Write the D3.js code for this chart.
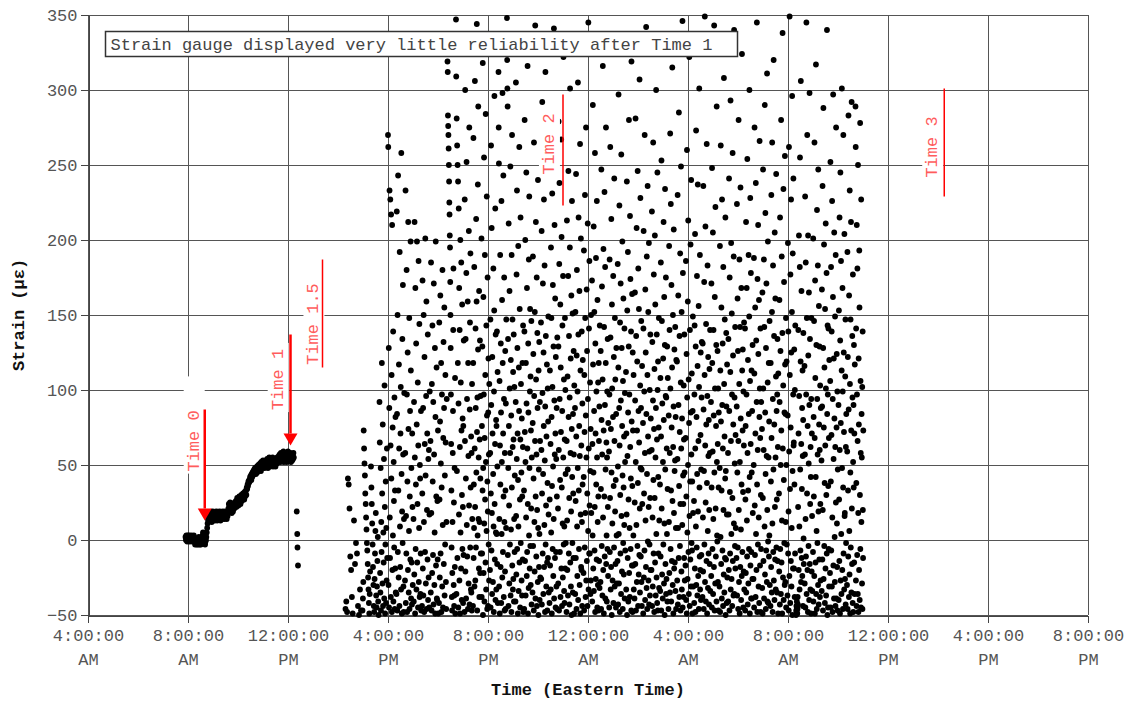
<!DOCTYPE html>
<html>
<head>
<meta charset="utf-8">
<script src="https://cdn.jsdelivr.net/npm/d3@7"></script>
<style>
  body { margin: 0; background: #fff; }
  text { font-family: "Liberation Mono", "Courier New", monospace; }
</style>
</head>
<body>
<svg id="chart" width="1139" height="702"></svg>
<script>
const svg = d3.select("#chart");

const width = 1139;
const height = 702;
const marginTop = 15;
const marginRight = 49;
const marginBottom = 87;
const marginLeft = 88;

// hours counted from midnight of day 1 (28 = 4:00 AM next day)
const xTicks = [4, 8, 12, 16, 20, 24, 28, 32, 36, 40, 44];
const yTicks = [-50, 0, 50, 100, 150, 200, 250, 300, 350];

// readings before Time 1, one a minute from 7:54 AM
const earlyStart = 7.90;
const earlyStep = 1 / 60;
const earlyStrain = [
  2, 0, 3, 1, -1, 2, 3, 0, 1, 3, -1, 2, 0, 1, 3, 2, -1, 1, 0, 2, 3, 1,
  -1, -3, 0, -2, 1, -3, -2, 0, -3, -1, 2, -2, -3, 0, -1, -3, 1, -2, 0, 3, 5, 2, 4, 1, -2, -3, -1, 0,
  2, 5, 8, 11, 14, 13, 17, 15,
  16, 13, 18, 15, 17, 12, 16, 19, 14, 17, 15, 18, 13, 16, 17, 14, 19, 16, 13, 15, 18, 16,
  14, 17, 19, 15, 13, 16, 18, 17, 14, 16, 19, 15, 17, 14, 18, 16, 15, 19, 17, 14, 18, 16,
  19, 21, 24, 20, 23, 25, 22, 19, 21, 18, 20, 23, 19, 22, 24, 21, 25, 22,
  23, 26, 22, 25, 28, 24, 27, 23, 26, 29, 25, 28, 24, 27, 30, 26, 29, 27, 31, 28, 30, 27, 32, 29,
  31, 33, 30, 35, 34, 37, 36, 39, 38, 40, 39, 42, 41, 43, 40, 44,
  42, 45, 43, 46, 44, 47, 45, 48, 46, 44, 47, 49, 45, 48, 46, 50,
  47, 50, 48, 51, 49, 46, 52, 50, 48, 51, 53, 49, 50, 52, 48, 51,
  50, 53, 49, 52, 54, 51, 48, 53, 50, 55, 52, 49, 54, 51, 53, 50, 52, 55, 49, 53, 51, 54, 50, 52, 49, 54, 53, 51, 55, 52,
  54, 52, 56, 53, 57, 55, 52, 58, 54, 56, 53, 57, 55, 59, 52, 56, 54, 58, 53, 55,
  57, 52, 56, 54, 59, 55, 53, 57, 54, 56, 58, 52, 55, 57, 53, 56, 54, 58, 55
];

// the few readings right after Time 1
const afterTime1 = [[12.35, 19], [12.37, 4], [12.38, -5], [12.40, -17]];

// unreliable readings: [burst start hour, strain values in order]
const burstSpan = 0.32;
const noiseBursts = [
  [14.30, [-46, -41, -48, 41, 37, 21, -11, -20, -38, -49]],
  [14.64, [13, -16, -2, -9, -44, -50, -33, -47]],
  [14.98, [-47, -39, -28, 73, 61, 51, 43, 31, 24, 15, 7, -2, -7, -16, -25, -33, -42, -49, -36, -21]],
  [15.32, [49, 35, 24, 11, -3, -18, -30, -44, -48, -26, -9, 6, 18, -37, -45, -31, -14, 2, -41, -50]],
  [15.66, [92, 65, -22, -35, 48, -47, 12, -8, 118, 31, -29, 77, -44, 5, -15, 54, -39, 103, 22, -49, -3, 39, -42, 8, -27, 61, -12]],
  [16.00, [270, 262, -30, 128, -45, 88, 233, 15, -12, 227, 63, -38, 217, 41, 110, -48, 210, -20, 75, 3, 139, -41, 52, 26, -5, 95, -46, 33, -19, 82, -35]],
  [16.34, [-36, 219, 84, -47, 150, -8, 243, 33, -25, 117, 61, -44, 192, 9, -18, 71, 102, -33, 258, 44, -49, 19, 134, -2, 170, 57, -31, -48, 14, 98]],
  [16.68, [-27, 58, 233, -42, 16, -9, 180, 97, -48, 39, 125, -20, 212, 74, -35, 6, 148, -46, 29, 86, -13, 199, 113, -39, 48, -15, -43, 71, 22, -30]],
  [17.02, [14, -41, 92, -23, 212, 55, -49, 168, -6, 37, 131, -33, 77, 199, -15, 24, 105, -45, 63, 186, -28, 8, 144, -38, 50, 41, -36, -9, 86, -47]],
  [17.36, [-44, 31, 173, -19, 88, -37, 150, 12, -48, 122, 64, -8, 201, 43, -29, 96, 159, -46, 20, 71, -13, 137, -40, 54, -25, 60, -45, 17, 99]],
  [17.70, [66, -35, 185, 18, -47, 104, -22, 143, 39, -10, 92, -43, 171, 57, -30, 5, 128, -49, 82, 199, -17, 29, 115, -39, -40, 26, -13, 73, -49]],
  [18.04, [-42, 145, 27, -25, 79, 163, -9, 51, 118, -48, 35, 97, -31, 180, 10, -45, 68, 132, -16, 88, 155, -37, 43, -3, 110, 65, -28, -46, 12, 94]],
  [18.38, [319, 312, 283, 276, 270, 261, 250, 239, 225, 217, 203, 195, 172, 150, 128, 97, 64, 33, -5, -38, -47, -22, 12, 58, 86, 140, 181, -30, 25, -44, -37, 48, -18, 108, -49]],
  [18.72, [347, 309, -36, 281, 46, 263, -12, 250, 118, 239, -45, 91, 221, 17, 168, -27, 140, 62, -49, 200, 5, 105, -19, 185, 73, -40, 30, 157, -6, 81, 22, -42, 76, -10, 133]],
  [19.06, [-48, 227, 66, 300, -21, 134, 41, -39, 178, 252, 10, 94, -11, 333, 159, -46, 118, 56, -29, 206, 23, 275, -43, 87, 145, -5, 191, 35, -33, 69, -35, 58, -47, 104, 14]],
  [19.40, [-44, 118, 268, -12, 37, 8, 182, -31, 61, 306, 22, -27, 141, 88, -5, 214, 45, 159, 344, 72, -47, 95, 3, 237, 127, 289, 14, 55, -19, 166, -38, 12, 67, 133, -22, 41, 96, -9]],
  [19.74, [201, -38, 76, -9, 129, 33, 318, -50, 48, 162, -22, 97, 255, 11, -41, 68, 190, 27, 110, -15, 284, 52, -33, 143, 6, 229, 83, -46, 39, 175, 19, -44, 85, 121, -3, 57, -27, 104]],
  [20.08, [-20, 58, 147, -45, 31, 263, 90, -7, 208, 18, -36, 122, 71, 335, -28, 44, 181, 9, -48, 99, 153, 296, 24, -13, 64, 221, -40, 137, 5, 80, -33, 76, 4, 139, -16, 49, 112, -42]],
  [20.42, [312, 275, 251, -31, 14, 106, -49, 63, 190, 37, -18, 131, 85, -42, 226, 4, 52, 160, -25, 298, 118, -8, 71, 243, 29, -38, 94, 175, 12, -47, 58, -21, 126, 33, -46, 91, 8, 147]],
  [20.76, [348, 320, 301, 289, -10, 134, 48, -44, 211, 76, 23, -29, 166, 101, -3, 58, 249, -37, 120, 7, 83, -48, 190, 35, 270, -17, 147, 62, -33, 112, -26, 67, 137, -41, 14, 102, -8, 43]],
  [21.10, [-41, 92, 305, 16, -23, 177, 54, 233, -6, 128, 71, -49, 40, 196, 9, -34, 115, 86, 262, -15, 154, 27, -45, 67, 215, -2, 104, 330, 45, -27, 81, -37, 29, 118, -13, 62, 143, -48]],
  [21.44, [33, -46, 139, 280, 72, -14, 200, 52, -37, 118, 15, 245, 91, -24, 168, -8, 61, 316, 24, -49, 131, 85, -32, 187, 3, 229, 48, -19, 99, 154, -4, 109, -30, 73, 21, 146, -43, 55]],
  [21.78, [-35, 78, 189, -4, 124, 41, -47, 265, 96, 12, -21, 152, 66, 343, -39, 29, 212, 107, -11, 57, 175, -44, 20, 138, 88, -28, 240, 8, -50, 113, 47, -18, 132, 4, -40, 92, 66, -25]],
  [22.12, [145, -26, 60, 206, -43, 31, 292, 98, -9, 171, 44, -36, 125, 76, 227, -18, 10, 183, 53, -48, 89, 312, -3, 136, 23, -31, 69, 251, 117, -15, -47, 38, 101, -12, 79, 149, 17, -35]],
  [22.46, [-42, 27, 113, -17, 258, 64, -33, 195, 5, 148, 82, -49, 36, 231, 102, -6, 170, 49, -24, 129, 14, 341, -39, 93, 210, 57, -12, 161, 71, -45, 122, -8, 54, -31, 88, 29, -46, 135]],
  [22.80, [21, -29, 129, 279, 60, -47, 184, 238, 94, -8, 40, 157, -38, 115, 72, 267, -19, 202, 35, -44, 86, 143, 11, -25, 176, 55, 322, -3, 107, -34, 9, -42, 67, 148, -19, 100, 44, -2]],
  [23.14, [-48, 66, 213, 13, -20, 109, 47, -37, 176, 246, 82, -9, 136, 28, -43, 95, 195, 301, -15, 58, 121, -31, 19, 163, -50, 74, 226, 42, -2, 151, -35, 84, 31, -12, 126, 57, -49, 103]],
  [23.48, [88, -36, 152, 26, -12, 244, 69, -46, 123, 180, 9, -24, 99, 48, 305, -40, 137, 215, 33, -6, 76, 166, -30, 56, 264, -49, 113, 17, 201, -18, 63, -20, 139, 12, -44, 91, 37, 120]],
  [23.82, [-22, 42, 193, -47, 110, 72, -5, 230, 148, 18, -38, 83, 275, -27, 55, 167, -14, 126, 31, -44, 211, 94, 6, 345, -33, 61, 141, -9, 186, 23, -9, 105, 46, -36, 74, -27, 150, 18]],
  [24.16, [173, -41, 64, 3, 290, 117, -19, 45, 209, -34, 86, 152, -7, 22, 258, -48, 131, 71, -26, 188, 37, 99, -13, 226, 55, -45, 160, 12, -30, 105, 29, -47, 118, 66, -14, 89, -32, 143]],
  [24.50, [-28, 126, 34, -46, 247, 80, -4, 169, 57, -37, 107, 316, 15, -20, 194, 73, -49, 142, 29, 232, -11, 90, 182, -39, 47, 118, 275, -16, 65, 3, -41, 55, 99, -6, 134, 22, -24, 78]],
  [24.84, [59, -45, 97, 187, -8, 28, 262, 135, -33, 74, -18, 214, 45, -50, 157, 101, 11, -27, 333, 82, 176, -42, 36, 122, -5, 241, 66, -31, 148, 19, 107, -16, 40, -45, 84, 128, 3, -29]],
  [25.18, [-14, 184, 49, -43, 115, 297, 4, -29, 88, 223, 63, -48, 145, 30, -9, 171, 93, -36, 257, 16, 128, -21, 76, 199, 43, -46, 106, -2, 161, 35, -23, 69, 10, 141, -39, 98, 52, -7]],
  [25.52, [112, -33, 71, 17, 239, -50, 153, 56, -12, 192, 85, -41, 27, 129, 280, -22, 97, 8, -38, 216, 62, 174, -6, 41, 139, -47, 319, 79, -17, 164, 36, -48, 125, 73, -17, 3, 110, -33]],
  [25.86, [-39, 25, 165, 93, -16, 281, 52, -47, 136, 10, 208, -28, 73, 119, -4, 246, 38, -44, 181, 86, -23, 154, 65, -10, 307, 21, -35, 103, 228, 48, -11, 88, 146, -28, 47, -44, 116, 24]],
  [26.20, [78, -49, 141, 206, -25, 31, 99, -7, 270, 58, -40, 167, 13, 125, -18, 342, 84, -32, 189, 44, -46, 110, 236, -1, 69, 152, -27, 22, 198, -43, 59, -3, 100, -37, 28, 137, -20, 81]],
  [26.54, [-20, 60, 219, -44, 132, 15, -31, 93, 265, 40, -9, 177, 74, -48, 114, 28, 203, -15, 157, 55, -37, 88, 300, 4, -25, 137, 67, -42, 245, 100, -47, 119, 42, -9, 75, 148, -32, 13]],
  [26.88, [37, -34, 108, -11, 185, 69, -47, 253, 21, 146, -23, 91, 330, -39, 52, 121, -3, 212, 80, -29, 162, 11, -50, 130, 234, 47, -16, 96, 175, -36, 95, -26, 61, 4, 129, -41, 34, 108]],
  [27.22, [-46, 83, 12, 196, -22, 140, 58, -35, 271, 101, -6, 224, 33, -41, 170, 75, -14, 115, 315, 26, -30, 150, 62, -49, 89, 207, 18, -19, 127, 46, -15, 53, 142, -34, 82, 8, -46, 120]],
  [27.56, [119, -27, 54, 230, -43, 8, 163, 90, -12, 285, 36, -38, 136, 72, -4, 191, 24, -47, 105, 249, 61, -21, 152, -33, 81, 10, 346, -45, 178, 43, 24, -38, 103, 67, -12, 137, 45, -27]],
  [27.90, [-17, 68, 186, -40, 29, 124, -49, 260, 95, 5, -26, 159, 50, 213, -8, 107, -36, 78, 322, 16, -44, 140, 39, -13, 197, 85, -31, 240, 57, -2, 111, -7, 39, -49, 86, 149, 18, -31]],
  [28.24, [26, -42, 97, 143, -19, 204, 61, -48, 129, 9, 273, -30, 82, -5, 176, 44, -37, 116, 237, 19, -24, 66, 156, -46, 102, 301, 35, -11, 190, -33, -20, 70, 125, -40, 47, -10, 95, 132]],
  [28.58, [-38, 131, 15, -21, 236, 87, -46, 46, 172, -3, 110, 349, -28, 63, 209, 25, -41, 144, 77, -14, 264, 38, -49, 96, 183, 6, -32, 122, 56, -9, 80, -43, 20, 114, -16, 58, 140, -34]],
  [28.92, [92, -24, 171, 35, -45, 248, 118, -6, 59, 205, -36, 14, 140, 83, -18, 343, 45, -47, 162, 101, -29, 222, 21, -11, 76, 130, -41, 289, 52, 3, -1, 126, 64, -28, 101, -47, 35, 85]],
  [29.26, [-31, 48, 196, -48, 113, 2, 263, 79, -16, 155, 33, -39, 227, 90, -7, 131, 61, -44, 182, 20, -23, 308, 104, -35, 69, 147, -12, 41, 215, -50, 46, -13, 138, 89, -42, 17, 117, -25]],
  [29.60, [58, -41, 134, 17, -20, 241, 86, -47, 175, 32, -9, 112, 293, -33, 66, 198, 4, -26, 151, 97, -44, 28, 258, -14, 123, 77, -37, 189, 11, 340, -36, 95, 51, -4, 142, -19, 70, 8]],
  [29.94, [-12, 89, 224, -37, 45, 161, -5, 126, -46, 66, 280, 20, -28, 104, 187, -49, 52, 142, -18, 235, 81, 7, -40, 168, 37, -24, 324, 113, -8, 73, 127, 32, -45, 99, -21, 63, 145, -33]],
  [30.28, [141, -47, 27, 76, -22, 212, -35, 97, 168, 13, -11, 254, 58, -43, 120, 33, -29, 190, 84, -6, 149, 300, 42, -49, 106, 228, -17, 64, 178, -39, -8, 113, 45, -39, 86, -26, 130, 18]],
  [30.62, [-26, 50, 188, -45, 111, 275, 23, -10, 155, 71, -38, 238, 4, 133, -20, 92, 345, 37, -48, 174, 60, -3, 210, 124, -31, 15, 160, -42, 82, 266, 101, -17, 68, 141, -48, 30, -6, 92]],
  [30.96, [74, -32, 165, -49, 28, 247, 101, -14, 60, 187, -39, 142, 9, 290, -23, 85, 218, 44, -46, 128, -7, 171, 56, -28, 311, 20, -41, 105, 199, -1, -42, 55, 118, -11, 79, 3, 146, -30]],
  [31.30, [-44, 118, 39, -18, 230, 68, -35, 152, 265, 11, -48, 94, 183, -8, 47, 320, -27, 136, 77, -40, 205, 22, -13, 161, 55, -33, 109, 244, -5, 86, 27, -35, 97, 134, -14, 62, -49, 111]],
  [31.64, [31, -21, 160, 92, -43, 215, -6, 126, 50, -36, 280, 73, -15, 189, 13, -49, 138, 338, 61, -25, 103, 234, -40, 40, 172, -2, 85, -30, 256, 117, -28, 84, 12, 148, -45, 50, 119, -3]],
  [31.98, [-37, 83, 198, -9, 139, 19, -47, 262, 59, -24, 349, 110, 34, -42, 177, 75, -14, 227, 125, -31, 8, 152, 296, -50, 46, 191, -19, 97, 241, 63, 65, -19, 127, 37, -38, 100, -9, 143]],
  [32.32, [-50, -47, -44, -48, -41, -45, -49, -46, -38, -43, 22, 140, 71, -20, 203, 96, 9, -33, 182, 255, 47, -7, 119, 306, -28, 64, 166, -12, 34, 88, -24, 113, 56, -44, 80, 138, 1, -16]],
  [32.66, [116, -29, 57, 229, -45, 14, 185, -11, 97, 345, -36, 148, 31, 270, -20, 76, -48, 203, 123, -4, 51, 165, -40, 90, 298, -16, 134, 24, -33, 62, 42, -49, 94, 148, -21, 71, 16, -34]],
  [33.00, [-8, 201, -41, 82, 29, 146, -24, 265, 68, -49, 173, 108, -15, 42, 317, -36, 130, 6, -46, 220, 94, -2, 57, 183, -30, 247, 19, -43, 156, 77, -13, 129, 60, -38, 103, 24, -27, 88]],
  [33.34, [53, -34, 167, 89, -13, 236, 20, -47, 128, 288, -26, 75, 197, -4, 115, 38, -42, 154, 63, -19, 211, 101, -37, 30, 178, -9, 340, 84, -50, 143, 97, -45, 36, 141, -6, 68, -31, 120]],
  [33.68, [-22, 106, 252, -45, 39, 182, -7, 70, 139, -31, 226, 15, -48, 94, 162, 297, -17, 54, 121, -39, 205, 81, 2, -28, 149, 62, -44, 190, 25, 275, -39, 75, 124, 11, -18, 99, -47, 47]],
  [34.02, [90, -40, 153, 27, -14, 215, 60, -49, 133, 245, -27, 78, 186, 4, -36, 113, 301, 48, -20, 168, 99, -46, 35, 270, -9, 125, 72, -33, 204, 16, 18, -26, 109, 147, -43, 62, -2, 84]],
  [34.36, [-30, 59, 192, -46, 122, 33, -11, 283, 87, -38, 163, 6, -23, 233, 104, -49, 45, 147, -5, 212, 73, -35, 292, 21, -16, 136, 95, -42, 177, 52, -48, 90, 35, 130, -15, 71, -36, 117]],
  [34.70, [289, 262, -27, 141, 38, -44, 210, 97, -10, 181, 66, -36, 250, 18, -48, 121, 77, -20, 193, 155, -40, 30, 278, -6, 106, 58, -45, 227, 12, 84, 55, -29, 102, -46, 139, 20, -12, 73]]
];

// red markers, placed in data units (hours, strain)
const timeNotes = [
  { label: "Time 0",   textAt: [8.19, 66],   lineAt: 8.67,  from: 87,  to: 13,  arrow: true,  padTop: 32 },
  { label: "Time 1",   textAt: [11.55, 107], lineAt: 12.10, from: 137, to: 63,  arrow: true,  padTop: 4 },
  { label: "Time 1.5", textAt: [12.98, 144], lineAt: 13.38, from: 187, to: 115, arrow: false, padTop: 2 },
  { label: "Time 2",   textAt: [22.40, 264], lineAt: 23.00, from: 297, to: 223, arrow: false, padTop: 2 },
  { label: "Time 3",   textAt: [37.73, 262], lineAt: 38.25, from: 301, to: 229, arrow: false, padTop: 2 }
];
const noteText = "Strain gauge displayed very little reliability after Time 1";

const xScale = d3.scaleLinear()
    .domain([4, 44])
    .range([marginLeft, width - marginRight - 2]);

const yScale = d3.scaleLinear()
    .domain([-50, 350])
    .range([height - marginBottom, marginTop]);

const crisp = v => Math.round(v) + 0.5;
const red = "#ff0000";
const redText = "#ff5c5c";

// gridlines
const grid = svg.append("g").attr("stroke", "#555").attr("shape-rendering", "crispEdges");
grid.selectAll("line.h")
  .data(yTicks)
  .join("line")
    .attr("class", "h")
    .attr("x1", xScale(4)).attr("x2", xScale(44))
    .attr("y1", d => crisp(yScale(d))).attr("y2", d => crisp(yScale(d)));
grid.selectAll("line.v")
  .data(xTicks)
  .join("line")
    .attr("class", "v")
    .attr("x1", d => crisp(xScale(d))).attr("x2", d => crisp(xScale(d)))
    .attr("y1", yScale(350)).attr("y2", yScale(-50));

// y axis
svg.append("g")
    .attr("transform", `translate(${crisp(xScale(4))},0)`)
    .call(d3.axisLeft(yScale).tickValues(yTicks).tickSize(8).tickSizeOuter(0).tickPadding(3))
    .call(g => g.attr("font-family", null).attr("font-size", 17))
    .call(g => g.selectAll("line, path").attr("stroke", "#444").attr("shape-rendering", "crispEdges"))
    .call(g => g.selectAll("text").attr("fill", "#555"));

// x axis, two-line labels
const hourLabel = h => {
  const hh = h % 24;
  const h12 = hh % 12 === 0 ? 12 : hh % 12;
  return [`${h12}:00:00`, hh < 12 ? "AM" : "PM"];
};
svg.append("g")
    .attr("transform", `translate(0,${crisp(yScale(-50))})`)
    .call(d3.axisBottom(xScale).tickValues(xTicks).tickSize(7).tickSizeOuter(0).tickFormat(""))
    .call(g => g.attr("font-family", null).attr("font-size", 17))
    .call(g => g.selectAll("line, path").attr("stroke", "#444").attr("shape-rendering", "crispEdges"))
    .call(g => g.selectAll(".tick text").each(function(d) {
        const t = d3.select(this).attr("y", 25).attr("dy", 0).attr("fill", "#555");
        const [a, b] = hourLabel(d);
        t.append("tspan").attr("x", 0).text(a);
        t.append("tspan").attr("x", 0).attr("dy", 24).text(b);
    }));

// axis titles
svg.append("text")
    .attr("x", (xScale(4) + xScale(44)) / 2)
    .attr("y", 695)
    .attr("text-anchor", "middle")
    .attr("font-size", 17)
    .attr("font-weight", "bold")
    .attr("fill", "#111")
    .text("Time (Eastern Time)");

svg.append("text")
    .attr("transform", `translate(18,${(yScale(-50) + yScale(350)) / 2}) rotate(-90)`)
    .attr("text-anchor", "middle")
    .attr("dy", "0.35em")
    .attr("font-size", 17)
    .attr("font-weight", "bold")
    .attr("fill", "#111")
    .text("Strain (\u03bc\u03b5)");

// points
const points = [];
earlyStrain.forEach((v, i) => points.push([earlyStart + i * earlyStep, v]));
afterTime1.forEach(p => points.push(p));
noiseBursts.forEach(([t0, vals]) => {
  vals.forEach((v, i) => points.push([t0 + i * burstSpan / vals.length, v]));
});

svg.append("g")
  .selectAll("circle")
  .data(points)
  .join("circle")
    .attr("cx", d => xScale(d[0]))
    .attr("cy", d => yScale(d[1]))
    .attr("r", 2.9)
    .attr("fill", "#000");

// note box
const box = svg.append("g").attr("transform", `translate(${crisp(xScale(4) + 17)},${crisp(yScale(350) + 16)})`);
box.append("rect")
    .attr("width", 632)
    .attr("height", 25)
    .attr("fill", "#fff")
    .attr("stroke", "#333")
    .attr("stroke-width", 1.5);
box.append("text")
    .attr("x", 5)
    .attr("y", 18)
    .attr("font-size", 17)
    .attr("fill", "#444")
    .text(noteText);

// time markers
timeNotes.forEach(n => {
  const g = svg.append("g")
      .attr("transform", `translate(${xScale(n.textAt[0])},${yScale(n.textAt[1])}) rotate(-90)`);
  const bg = g.append("rect").attr("fill", "#fff");
  const t = g.append("text")
      .attr("text-anchor", "middle")
      .attr("dy", "0.35em")
      .attr("font-size", 17)
      .attr("fill", redText)
      .text(n.label);
  const b = t.node().getBBox();
  bg.attr("x", b.x - 2).attr("y", b.y - 1)
    .attr("width", b.width + 4 + n.padTop)
    .attr("height", b.height + 2);

  const lx = xScale(n.lineAt);
  const yTip = yScale(n.to);
  const headLen = n.arrow ? 12 : 0;
  svg.append("line")
      .attr("x1", lx).attr("x2", lx)
      .attr("y1", yScale(n.from)).attr("y2", yTip - headLen)
      .attr("stroke", red)
      .attr("stroke-width", n.arrow ? 2.5 : 1.5);
  if (n.arrow) {
    svg.append("path")
        .attr("d", `M${lx - 7},${yTip - headLen}L${lx + 7},${yTip - headLen}L${lx},${yTip}Z`)
        .attr("fill", red);
  }
});
</script>
</body>
</html>
